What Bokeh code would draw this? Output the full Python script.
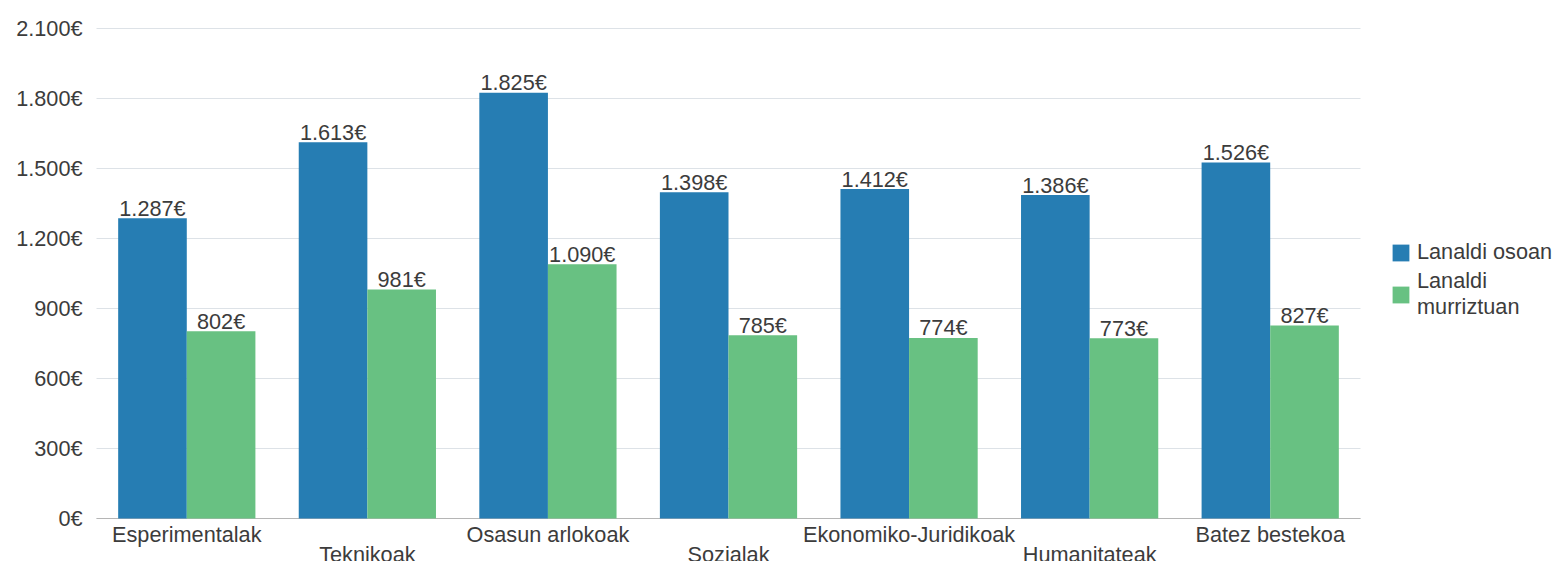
from bokeh.plotting import figure
from bokeh.models import Range1d, Legend, LegendItem, ColumnDataSource
from bokeh.transform import dodge
from bokeh.core.properties import value
from bokeh.embed import file_html
from bokeh.resources import INLINE

categories = ["Esperimentalak", "Teknikoak", "Osasun arlokoak", "Sozialak",
              "Ekonomiko-Juridikoak", "Humanitateak", "Batez bestekoa"]
full_time = [1287, 1613, 1825, 1398, 1412, 1386, 1526]
part_time = [802, 981, 1090, 785, 774, 773, 827]
series_names = ["Lanaldi osoan", "Lanaldi\nmurriztuan"]
y_ticks = [0, 300, 600, 900, 1200, 1500, 1800, 2100]
y_tick_labels = ["0€", "300€", "600€", "900€", "1.200€", "1.500€", "1.800€", "2.100€"]

BLUE = "#267DB3"
GREEN = "#68C182"
TEXT = "#3c3c3c"
GRID = "#dde2e7"
AXIS = "#b5b5b5"
FONT = "Liberation Sans"
FS = "21.7px"

# canvas layout (pixels)
W, H = 1561, 561
PLOT_L, PLOT_R, PLOT_T, PLOT_B = 96, 1360, 28, 518
Y_MAX = 2100

n = len(categories)
px_per_cat = (PLOT_R - PLOT_L) / n
px_per_unit = (PLOT_B - PLOT_T) / Y_MAX

x_range = Range1d(-PLOT_L / px_per_cat, n + (W - PLOT_R) / px_per_cat)
y_range = Range1d(-(H - PLOT_B) / px_per_unit, Y_MAX + PLOT_T / px_per_unit)


def euro(v):
    return f"{v:,}".replace(",", ".") + "€"


xc = [i + 0.5 for i in range(n)]
src = ColumnDataSource(dict(
    x=xc,
    cat=categories,
    full=full_time,
    part=part_time,
    full_lbl=[euro(v) for v in full_time],
    part_lbl=[euro(v) for v in part_time],
    yoff=[16 if i % 2 == 0 else 36 for i in range(n)],
))
tick_src = ColumnDataSource(dict(
    y=y_ticks,
    lbl=y_tick_labels,
    x0=[0] * len(y_ticks),
    x1=[n] * len(y_ticks),
))

p = figure(width=W, height=H, x_range=x_range, y_range=y_range,
           output_backend="svg", toolbar_location=None,
           min_border=0, min_border_left=0, min_border_right=0,
           min_border_top=0, min_border_bottom=0)
p.outline_line_color = None
p.xaxis.visible = False
p.yaxis.visible = False
p.xgrid.visible = False
p.ygrid.visible = False

# grid lines (from the tick values)
p.segment(x0="x0", x1="x1", y0="y", y1="y", source=tick_src, line_color=GRID, line_width=1)
# baseline
p.segment(x0=[0], x1=[n], y0=[0], y1=[0], line_color=AXIS, line_width=1)

off = 0.19
bw = 0.38
r1 = p.vbar(x=dodge("x", -off), top="full", width=bw, source=src,
            fill_color=BLUE, line_color=None)
r2 = p.vbar(x=dodge("x", off), top="part", width=bw, source=src,
            fill_color=GREEN, line_color=None)

for col, lbl, o in (("full", "full_lbl", -off), ("part", "part_lbl", off)):
    p.text(x=dodge("x", o), y=col, text=lbl, source=src,
           text_align="center", text_baseline="middle", y_offset=-10,
           text_font=value(FONT), text_font_size=FS, text_color=TEXT)

# y tick labels
p.text(x="x0", y="y", text="lbl", source=tick_src, x_offset=-14,
       text_align="right", text_baseline="middle",
       text_font=value(FONT), text_font_size=FS, text_color=TEXT)

# category labels (staggered)
p.text(x="x", y=0, text="cat", source=src, y_offset="yoff",
       text_align="center", text_baseline="middle",
       text_font=value(FONT), text_font_size=FS, text_color=TEXT)

legend = Legend(items=[LegendItem(label=series_names[0], renderers=[r1]),
                       LegendItem(label=series_names[1], renderers=[r2])],
                location=(1390, 241), orientation="vertical",
                glyph_width=21, glyph_height=21, label_standoff=6, spacing=3,
                padding=0, margin=0, border_line_color=None, background_fill_alpha=0,
                label_text_font=FONT, label_text_font_size=FS, label_text_color=TEXT,
                label_height=21)
p.add_layout(legend)

open("out.html", "w").write(file_html(p, INLINE))
